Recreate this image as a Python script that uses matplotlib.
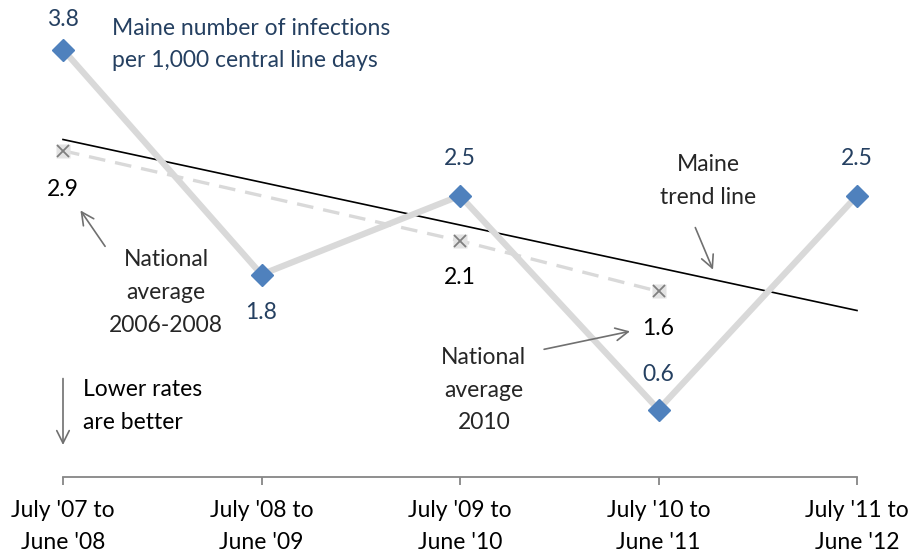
import numpy as np
import matplotlib.pyplot as plt

plt.rcParams['font.family'] = ['Lato', 'DejaVu Sans']

periods = ["July '07 to\nJune '08", "July '08 to\nJune '09", "July '09 to\nJune '10",
           "July '10 to\nJune '11", "July '11 to\nJune '12"]
maine = [3.8, 1.8, 2.5, 0.6, 2.5]
maine_labels = ['3.8', '1.8', '2.5', '0.6', '2.5']
national = [2.9, 2.1, 1.65]
national_labels = ['2.9', '2.1', '1.6']

x = np.arange(len(periods))
xn = np.array([0, 2, 3])

blue_txt = '#254061'
dark = '#262626'
arrow_c = '#707070'

fig = plt.figure(figsize=(9.13, 5.59), dpi=100)
ax = fig.add_axes([63/913, 82/559, 794/913, 472.5/559])
ax.set_xlim(0, 4)
ax.set_ylim(0, 4.2)

# trend line of Maine data
k, b = np.polyfit(x, maine, 1)
ax.plot([0, 4], [b, b + 4*k], color='black', lw=1.2, zorder=2, clip_on=False)

# national average
ax.plot(xn, national, color='#D9D9D9', lw=2.4, ls=(0, (5, 3)), zorder=1, clip_on=False)
ax.plot(xn, national, ls='none', marker='s', ms=10, mfc='#E3E3E3', mec='none', zorder=3, clip_on=False)
ax.plot(xn, national, ls='none', marker='x', ms=8, mew=1.3, color='#7F7F7F', zorder=4, clip_on=False)

# Maine
ax.plot(x, maine, color='#D9D9D9', lw=4.5, zorder=3, clip_on=False)
ax.plot(x, maine, ls='none', marker='D', ms=11.5, color='#4F81BD', zorder=5, clip_on=False)

fs = 16.5
ls = 1.68
arr = dict(arrowstyle='->,head_length=0.9,head_width=0.45', color=arrow_c, lw=1.2)

# Maine value labels
offs = [0.27, -0.34, 0.33, 0.31, 0.33]
for xi, yi, lab, o in zip(x, maine, maine_labels, offs):
    ax.text(xi, yi + o, lab, color=blue_txt, fontsize=fs, ha='center', va='center')

# national value labels
noffs = [-0.34, -0.33, -0.33]
for xi, yi, lab, o in zip(xn, national, national_labels, noffs):
    ax.text(xi, yi + o, lab, color='black', fontsize=fs, ha='center', va='center')

ax.text(0.245, 3.845, 'Maine number of infections\nper 1,000 central line days', color=blue_txt,
        fontsize=fs, ha='left', va='center', linespacing=ls)

ax.text(0.52, 1.64, 'National\naverage\n2006-2008', color=dark, fontsize=fs, ha='center',
        va='center', linespacing=ls)
ax.annotate('', xy=(0.08, 2.39), xytext=(0.22, 2.03), arrowprops=arr)

ax.text(2.12, 0.77, 'National\naverage\n2010', color=dark, fontsize=fs, ha='center',
        va='center', linespacing=ls)
ax.annotate('', xy=(2.87, 1.3), xytext=(2.41, 1.13), arrowprops=arr)

ax.text(3.25, 2.63, 'Maine\ntrend line', color=dark, fontsize=fs, ha='center',
        va='center', linespacing=ls)
ax.annotate('', xy=(3.28, 1.82), xytext=(3.18, 2.24), arrowprops=arr)

ax.text(0.1, 0.63, 'Lower rates\nare better', color='black', fontsize=fs, ha='left',
        va='center', linespacing=ls)
ax.annotate('', xy=(0, 0.26), xytext=(0, 0.9), arrowprops=arr)

# axes styling
for s in ['top', 'right', 'left']:
    ax.spines[s].set_visible(False)
ax.spines['bottom'].set_color('#868686')
ax.spines['bottom'].set_linewidth(1.3)
ax.set_yticks([])
ax.set_xticks(x)
ax.set_xticklabels(periods, fontsize=fs, color='black', linespacing=ls)
ax.tick_params(axis='x', direction='out', length=6, width=1.3, color='#868686', pad=10.5)

fig.savefig('out.png', dpi=100)
